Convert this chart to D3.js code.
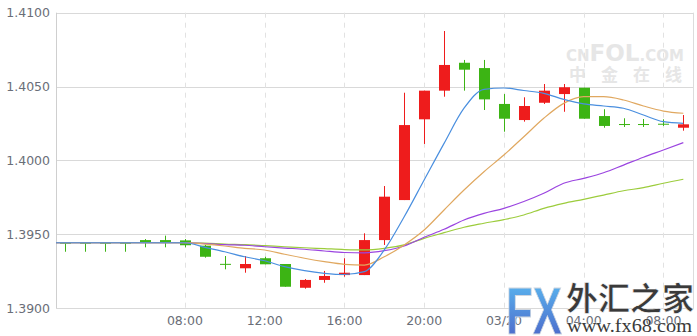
<!DOCTYPE html>
<html>
<head>
<meta charset="utf-8">
<script src="https://cdn.jsdelivr.net/npm/d3@7/dist/d3.min.js"></script>
<style>
  html, body { margin: 0; padding: 0; background: #fff; }
  svg { display: block; }
</style>
</head>
<body>
<div id="chart"></div>
<script>
// ---- data ----
const times = ["02:00","03:00","04:00","05:00","06:00","07:00","08:00","09:00","10:00","11:00",
  "12:00","13:00","14:00","15:00","16:00","17:00","18:00","19:00","20:00","21:00","22:00","23:00",
  "03/20","01:00","02:00","03:00","04:00","05:00","06:00","07:00","08:00","09:00"];
const openP  = [1.39442,1.39442,1.39442,1.39442,1.39460,1.39460,1.39458,1.39422,1.39299,1.39269,
  1.39337,1.39298,1.39137,1.39190,1.39223,1.39223,1.39460,1.39731,1.40278,1.40472,1.40661,1.40625,
  1.40382,1.40273,1.40390,1.40449,1.40492,1.40300,1.40246,1.40246,1.40248,1.40221];
const highP  = [1.39442,1.39442,1.39442,1.39442,1.39467,1.39490,1.39467,1.39427,1.39352,1.39352,
  1.39347,1.39298,1.39196,1.39251,1.39337,1.39506,1.39826,1.40458,1.40472,1.40876,1.40680,1.40680,
  1.40449,1.40427,1.40517,1.40517,1.40492,1.40346,1.40285,1.40280,1.40278,1.40307];
const lowP   = [1.39381,1.39381,1.39381,1.39381,1.39411,1.39411,1.39411,1.39341,1.39262,1.39239,
  1.39296,1.39144,1.39131,1.39171,1.39212,1.39223,1.39427,1.39731,1.40111,1.40431,1.40472,1.40341,
  1.40194,1.40262,1.40382,1.40329,1.40282,1.40221,1.40226,1.40226,1.40233,1.40201];
const closeP = [1.39442,1.39442,1.39442,1.39442,1.39447,1.39447,1.39425,1.39347,1.39293,1.39298,
  1.39296,1.39144,1.39190,1.39217,1.39239,1.39460,1.39754,1.40239,1.40472,1.40646,1.40614,1.40413,
  1.40282,1.40368,1.40472,1.40495,1.40282,1.40233,1.40242,1.40242,1.40244,1.40244];

const ma5  = [1.39442,1.39442,1.39442,1.39442,1.39442,1.39442,1.39442,1.39411,1.39381,1.39347,
  1.39320,1.39280,1.39253,1.39235,1.39227,1.39246,1.39393,1.39618,1.39867,1.40115,1.40353,1.40481,
  1.40490,1.40473,1.40454,1.40413,1.40382,1.40368,1.40353,1.40307,1.40262,1.40251];
const ma10 = [1.39442,1.39442,1.39442,1.39442,1.39442,1.39442,1.39442,1.39433,1.39420,1.39404,
  1.39393,1.39364,1.39337,1.39314,1.39296,1.39291,1.39347,1.39427,1.39528,1.39664,1.39799,1.39923,
  1.40036,1.40160,1.40285,1.40386,1.40431,1.40431,1.40409,1.40368,1.40334,1.40319];
const ma20 = [1.39442,1.39442,1.39442,1.39442,1.39442,1.39442,1.39442,1.39437,1.39429,1.39425,
  1.39415,1.39406,1.39398,1.39386,1.39376,1.39374,1.39388,1.39420,1.39479,1.39533,1.39596,1.39641,
  1.39675,1.39721,1.39777,1.39845,1.39878,1.39916,1.39968,1.40021,1.40070,1.40120];
const ma30 = [1.39442,1.39442,1.39442,1.39442,1.39442,1.39442,1.39442,1.39440,1.39433,1.39429,
  1.39422,1.39415,1.39408,1.39402,1.39396,1.39393,1.39404,1.39427,1.39472,1.39510,1.39547,1.39574,
  1.39599,1.39630,1.39675,1.39709,1.39736,1.39765,1.39794,1.39815,1.39845,1.39872];

const yTicks = [1.3900, 1.3950, 1.4000, 1.4050, 1.4100];
const xTickIdx = [6, 10, 14, 18, 22, 26, 30];

// ---- layout ----
const W = 697, H = 336;
const L = 56, R = 694, T = 12.7, B = 308;
const UP = "#ee1c1c", DOWN = "#3cb414";
const maColors = ["#4a8fdf", "#e0a860", "#9b45e0", "#9ccc3c"];

const svg = d3.select("#chart").append("svg").attr("width", W).attr("height", H);

const idx = d3.range(times.length);
const x = d3.scaleBand().domain(idx).range([L - 0.7, R - 0.7]).paddingInner(0);
const xc = i => x(i) + x.bandwidth() / 2;
const y = d3.scaleLinear().domain([1.39, 1.41]).range([B, T]);

// background watermark CNFOL
const wm = svg.append("g").attr("fill", "#e6e6e6").attr("font-family", "DejaVu Sans, sans-serif").attr("font-weight", "bold");
wm.append("text").attr("x", 566).attr("y", 61)
  .call(t => {
    t.append("tspan").attr("font-size", 15).text("CN");
    t.append("tspan").attr("font-size", 23).text("FOL");
    t.append("tspan").attr("font-size", 15).text(".COM");
  });
wm.append("text").attr("x", 569).attr("y", 81).attr("font-size", 17)
  .attr("font-family", "Noto Sans CJK SC, sans-serif").attr("letter-spacing", 15).text("中金在线");

// grid
const g = svg.append("g");
g.selectAll("line.h").data(yTicks).enter().append("line")
  .attr("x1", L).attr("x2", R).attr("y1", d => Math.round(y(d)) + 0.5).attr("y2", d => Math.round(y(d)) + 0.5)
  .attr("stroke", "#d9d9d9").attr("stroke-width", 1);
g.selectAll("line.v").data(xTickIdx).enter().append("line")
  .attr("x1", d => Math.round(xc(d)) + 0.5).attr("x2", d => Math.round(xc(d)) + 0.5)
  .attr("y1", T).attr("y2", B)
  .attr("stroke", "#e2e2e2").attr("stroke-dasharray", "5,5");
g.append("line").attr("x1", L + 0.5).attr("x2", L + 0.5).attr("y1", T).attr("y2", B).attr("stroke", "#cfcfcf");
g.append("line").attr("x1", R - 0.5).attr("x2", R - 0.5).attr("y1", T).attr("y2", B).attr("stroke", "#dcdcdc");

// y labels
const yAxis = d3.axisLeft(y).tickValues(yTicks).tickFormat(d3.format(".4f")).tickSize(0).tickPadding(6);
const ya = svg.append("g").attr("transform", `translate(${L},0)`).call(yAxis);
ya.select(".domain").remove();
ya.selectAll("text").attr("fill", "#6a6e78").attr("font-size", 12.5).attr("font-family", "DejaVu Sans, sans-serif");

// x labels
const xAxis = d3.axisBottom(x).tickValues(xTickIdx).tickFormat(i => times[i]).tickSize(0).tickPadding(8);
const xa = svg.append("g").attr("transform", `translate(0,${B})`).call(xAxis);
xa.select(".domain").remove();
xa.selectAll("text").attr("fill", "#6a6e78").attr("font-size", 12.5).attr("font-family", "DejaVu Sans, sans-serif");

// candles
const cw = 11;
const cg = svg.append("g");
idx.forEach(i => {
  const up = closeP[i] > openP[i];
  const col = up ? UP : DOWN;
  const cx = Math.round(xc(i)) + 0.5;
  cg.append("line").attr("x1", cx).attr("x2", cx)
    .attr("y1", y(highP[i])).attr("y2", y(lowP[i])).attr("stroke", col).attr("stroke-width", 1);
  const top = y(Math.max(openP[i], closeP[i]));
  const bot = y(Math.min(openP[i], closeP[i]));
  cg.append("rect").attr("x", cx - cw / 2).attr("width", cw)
    .attr("y", top).attr("height", Math.max(1, bot - top)).attr("fill", col);
});

// moving averages
svg.append("clipPath").attr("id", "clip").append("rect")
  .attr("x", L).attr("y", T).attr("width", R - L).attr("height", B - T);
const line = d3.line().x(d => d[0]).y(d => y(d[1])).curve(d3.curveMonotoneX);
[ma30, ma20, ma10, ma5].forEach((s, k) => {
  const pts = [[L, s[0]]].concat(s.map((v, i) => [xc(i), v]));
  svg.append("path").attr("d", line(pts)).attr("fill", "none")
    .attr("stroke", maColors[3 - k]).attr("stroke-width", 1.2).attr("clip-path", "url(#clip)");
});

// FX watermark
const defs = svg.append("defs");
const gr = defs.append("linearGradient").attr("id", "fxg").attr("x1", 0).attr("y1", 0).attr("x2", 0).attr("y2", 1);
gr.append("stop").attr("offset", "0%").attr("stop-color", "#5cc0f4");
gr.append("stop").attr("offset", "100%").attr("stop-color", "#4a5cc4");
svg.append("text").attr("x", 506).attr("y", 334).attr("font-size", 66).attr("font-weight", "bold")
  .attr("font-family", "Liberation Sans, Arial, sans-serif").attr("fill", "url(#fxg)")
  .attr("stroke", "#cfd6e0").attr("stroke-width", 1).attr("textLength", 56).attr("lengthAdjust", "spacingAndGlyphs")
  .text("FX");
svg.append("text").attr("x", 566).attr("y", 310).attr("font-size", 32).attr("font-weight", "bold")
  .attr("font-family", "Noto Sans CJK SC, sans-serif").attr("fill", "#3a3a3a")
  .attr("stroke", "#ffffff").attr("stroke-width", 0.6).attr("textLength", 128).attr("lengthAdjust", "spacingAndGlyphs")
  .text("外汇之家");
svg.append("text").attr("x", 567).attr("y", 332).attr("font-size", 18)
  .attr("font-family", "Liberation Serif, serif").attr("fill", "#3a3a3a")
  .attr("stroke", "#ffffff").attr("stroke-width", 0.5).attr("paint-order", "stroke")
  .attr("textLength", 125).attr("lengthAdjust", "spacingAndGlyphs")
  .text("www.fx68.com");
</script>
</body>
</html>
